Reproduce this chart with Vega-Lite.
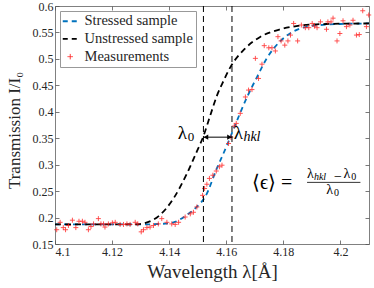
{
  "$schema": "https://vega.github.io/schema/vega-lite/v6.json",
  "width": 314,
  "height": 238,
  "autosize": {"type": "none"},
  "padding": {"left": 55, "top": 6, "right": 5, "bottom": 44},
  "background": "white",
  "config": {
    "font": "Liberation Serif",
    "view": {"stroke": "#808080", "strokeWidth": 1},
    "axis": {
      "grid": false, "domain": false, "tickSize": -4, "tickColor": "#555555", "tickWidth": 0.8,
      "labelFont": "Liberation Serif", "labelFontSize": 12, "labelColor": "#262626", "labelPadding": 6,
      "titleFont": "Liberation Serif", "titleFontWeight": "normal", "titleColor": "#262626"
    },
    "text": {"font": "Liberation Serif", "color": "#000000"}
  },
  "datasets": {
    "stressed": [
      {"x": 4.100, "y": 0.187}, {"x": 4.130, "y": 0.187}, {"x": 4.137, "y": 0.188}, {"x": 4.1415, "y": 0.191},
      {"x": 4.1462, "y": 0.205}, {"x": 4.150, "y": 0.222}, {"x": 4.1526, "y": 0.239}, {"x": 4.1567, "y": 0.293},
      {"x": 4.1602, "y": 0.336}, {"x": 4.1632, "y": 0.376}, {"x": 4.1673, "y": 0.428}, {"x": 4.1708, "y": 0.466},
      {"x": 4.1743, "y": 0.502}, {"x": 4.179, "y": 0.534}, {"x": 4.1836, "y": 0.552}, {"x": 4.1895, "y": 0.562},
      {"x": 4.2, "y": 0.566}, {"x": 4.21, "y": 0.567}
    ],
    "unstressed": [
      {"x": 4.100, "y": 0.187}, {"x": 4.128, "y": 0.187}, {"x": 4.131, "y": 0.189}, {"x": 4.1368, "y": 0.205},
      {"x": 4.1415, "y": 0.236}, {"x": 4.1462, "y": 0.283}, {"x": 4.1497, "y": 0.325}, {"x": 4.152, "y": 0.354},
      {"x": 4.1545, "y": 0.395}, {"x": 4.1567, "y": 0.430}, {"x": 4.159, "y": 0.458}, {"x": 4.1614, "y": 0.484},
      {"x": 4.1661, "y": 0.517}, {"x": 4.172, "y": 0.542}, {"x": 4.179, "y": 0.556}, {"x": 4.186, "y": 0.563},
      {"x": 4.195, "y": 0.566}, {"x": 4.21, "y": 0.567}
    ],
    "measurements": [
      {"x": 4.1006, "y": 0.177}, {"x": 4.1018, "y": 0.191}, {"x": 4.1029, "y": 0.181}, {"x": 4.1037, "y": 0.177},
      {"x": 4.1047, "y": 0.185}, {"x": 4.1061, "y": 0.195}, {"x": 4.1073, "y": 0.181}, {"x": 4.1084, "y": 0.193},
      {"x": 4.1096, "y": 0.193}, {"x": 4.1105, "y": 0.191}, {"x": 4.1117, "y": 0.177}, {"x": 4.1126, "y": 0.183},
      {"x": 4.1135, "y": 0.188}, {"x": 4.1152, "y": 0.198}, {"x": 4.1161, "y": 0.188}, {"x": 4.117, "y": 0.188},
      {"x": 4.1175, "y": 0.182}, {"x": 4.1187, "y": 0.188}, {"x": 4.1201, "y": 0.190}, {"x": 4.1211, "y": 0.191},
      {"x": 4.1228, "y": 0.187}, {"x": 4.124, "y": 0.187}, {"x": 4.1252, "y": 0.188}, {"x": 4.1263, "y": 0.187},
      {"x": 4.1281, "y": 0.191}, {"x": 4.129, "y": 0.188}, {"x": 4.1302, "y": 0.173}, {"x": 4.131, "y": 0.177},
      {"x": 4.1322, "y": 0.181}, {"x": 4.1333, "y": 0.182}, {"x": 4.1345, "y": 0.185}, {"x": 4.1362, "y": 0.188},
      {"x": 4.1374, "y": 0.198}, {"x": 4.1392, "y": 0.191}, {"x": 4.1409, "y": 0.188}, {"x": 4.1421, "y": 0.187},
      {"x": 4.1433, "y": 0.191}, {"x": 4.1456, "y": 0.201}, {"x": 4.1474, "y": 0.207}, {"x": 4.1485, "y": 0.210},
      {"x": 4.1497, "y": 0.220}, {"x": 4.1517, "y": 0.242}, {"x": 4.1524, "y": 0.255}, {"x": 4.1532, "y": 0.263},
      {"x": 4.1541, "y": 0.274}, {"x": 4.1553, "y": 0.280}, {"x": 4.1565, "y": 0.288}, {"x": 4.1576, "y": 0.296},
      {"x": 4.1585, "y": 0.299}, {"x": 4.1608, "y": 0.340}, {"x": 4.1616, "y": 0.352}, {"x": 4.1628, "y": 0.373},
      {"x": 4.1635, "y": 0.378}, {"x": 4.1649, "y": 0.397}, {"x": 4.1667, "y": 0.428}, {"x": 4.1678, "y": 0.441},
      {"x": 4.169, "y": 0.442}, {"x": 4.1702, "y": 0.501}, {"x": 4.1713, "y": 0.463}, {"x": 4.1725, "y": 0.490},
      {"x": 4.1733, "y": 0.525}, {"x": 4.1749, "y": 0.521}, {"x": 4.176, "y": 0.521}, {"x": 4.1772, "y": 0.515},
      {"x": 4.1781, "y": 0.542}, {"x": 4.1792, "y": 0.534}, {"x": 4.1805, "y": 0.526}, {"x": 4.1816, "y": 0.534},
      {"x": 4.1825, "y": 0.545}, {"x": 4.1836, "y": 0.567}, {"x": 4.185, "y": 0.534}, {"x": 4.1863, "y": 0.564},
      {"x": 4.1877, "y": 0.559}, {"x": 4.1889, "y": 0.559}, {"x": 4.1901, "y": 0.567}, {"x": 4.1909, "y": 0.562},
      {"x": 4.1918, "y": 0.559}, {"x": 4.193, "y": 0.570}, {"x": 4.1951, "y": 0.556}, {"x": 4.1956, "y": 0.570},
      {"x": 4.1967, "y": 0.570}, {"x": 4.1974, "y": 0.577}, {"x": 4.1988, "y": 0.534}, {"x": 4.1998, "y": 0.548},
      {"x": 4.2009, "y": 0.572}, {"x": 4.2021, "y": 0.561}, {"x": 4.2033, "y": 0.564}, {"x": 4.2044, "y": 0.573},
      {"x": 4.2056, "y": 0.545}, {"x": 4.2066, "y": 0.546}, {"x": 4.2078, "y": 0.591}, {"x": 4.2091, "y": 0.561},
      {"x": 4.2099, "y": 0.583}
    ]
  },
  "layer": [
    {
      "data": {"name": "stressed"},
      "mark": {"type": "line", "strokeDash": [5, 4], "strokeWidth": 1.8, "interpolate": "monotone"},
      "encoding": {
        "x": {"field": "x", "type": "quantitative", "scale": {"domain": [4.1, 4.21], "nice": false, "zero": false},
          "axis": {"orient": "bottom", "values": [4.1, 4.12, 4.14, 4.16, 4.18, 4.2], "format": ".2~f",
            "title": "Wavelength λ[Å]", "titleFontSize": 19, "titleY": 33, "titleBaseline": "alphabetic"}},
        "y": {"field": "y", "type": "quantitative", "scale": {"domain": [0.15, 0.6], "nice": false, "zero": false},
          "axis": {"orient": "left", "values": [0.15, 0.2, 0.25, 0.3, 0.35, 0.4, 0.45, 0.5, 0.55, 0.6], "format": ".2~f",
            "title": "Transmission I/I₀", "titleFontSize": 17, "titleX": -41, "titleY": 124, "titleBaseline": "middle", "titleAngle": -90}},
        "color": {"datum": "Stressed sample", "type": "nominal",
          "scale": {"domain": ["Stressed sample", "Unstressed sample", "Measurements"], "range": ["#0072BD", "#000000", "#FF2020"]},
          "legend": {"orient": "top-left", "offset": 5, "title": null, "padding": 3, "strokeColor": "#999999", "fillColor": "white",
            "labelFontSize": 14.5, "labelFont": "Liberation Serif", "labelColor": "#262626", "labelOffset": 7, "rowPadding": 2.7,
            "symbolType": "stroke", "symbolSize": 225, "symbolStrokeWidth": 1.8,
            "encode": {"symbols": {"update": {
              "shape": {"signal": "datum.label === 'Measurements' ? 'M-1,0L1,0M0,-1L0,1' : 'M-1,0L1,0'"},
              "size": {"signal": "datum.label === 'Measurements' ? 30 : 225"},
              "strokeDash": {"signal": "datum.label === 'Measurements' ? [1,0] : [5,4]"},
              "strokeWidth": {"signal": "datum.label === 'Measurements' ? 0.9 : 1.8"},
              "fill": {"value": "transparent"}}}}}}
      }
    },
    {
      "data": {"name": "unstressed"},
      "mark": {"type": "line", "strokeDash": [6, 4], "strokeWidth": 1.8, "interpolate": "monotone"},
      "encoding": {
        "x": {"field": "x", "type": "quantitative", "scale": {"domain": [4.1, 4.21], "nice": false, "zero": false},
          "axis": {"orient": "top", "values": [4.1, 4.12, 4.14, 4.16, 4.18, 4.2], "labels": false, "title": null}},
        "y": {"field": "y", "type": "quantitative", "scale": {"domain": [0.15, 0.6], "nice": false, "zero": false},
          "axis": {"orient": "right", "values": [0.15, 0.2, 0.25, 0.3, 0.35, 0.4, 0.45, 0.5, 0.55, 0.6], "labels": false, "title": null}},
        "color": {"datum": "Unstressed sample", "type": "nominal"}
      }
    },
    {
      "data": {"name": "measurements"},
      "mark": {"type": "point", "shape": "M-1,0L1,0M0,-1L0,1", "size": 25, "strokeWidth": 0.9, "filled": false, "opacity": 0.85},
      "encoding": {
        "x": {"field": "x", "type": "quantitative", "axis": null},
        "y": {"field": "y", "type": "quantitative", "axis": null},
        "color": {"datum": "Measurements", "type": "nominal"}
      }
    },
    {
      "data": {"values": [{"lambda": 4.152}, {"lambda": 4.162}]},
      "mark": {"type": "rule", "strokeDash": [6, 4], "strokeWidth": 1, "color": "#000000"},
      "encoding": {"x": {"field": "lambda", "type": "quantitative", "axis": null}}
    },
    {
      "data": {"values": [{"from": 4.152, "to": 4.162, "level": 0.352}]},
      "mark": {"type": "rule", "strokeWidth": 1, "color": "#000000"},
      "encoding": {
        "x": {"field": "from", "type": "quantitative", "axis": null},
        "x2": {"field": "to"},
        "y": {"field": "level", "type": "quantitative", "axis": null}
      }
    },
    {
      "data": {"values": [{"x": 4.152, "y": 0.352}]},
      "mark": {"type": "point", "shape": "triangle-left", "size": 28, "filled": true, "color": "#000000", "opacity": 1, "xOffset": 2.5},
      "encoding": {"x": {"field": "x", "type": "quantitative", "axis": null}, "y": {"field": "y", "type": "quantitative", "axis": null}}
    },
    {
      "data": {"values": [{"x": 4.162, "y": 0.352}]},
      "mark": {"type": "point", "shape": "triangle-right", "size": 28, "filled": true, "color": "#000000", "opacity": 1, "xOffset": -2.5},
      "encoding": {"x": {"field": "x", "type": "quantitative", "axis": null}, "y": {"field": "y", "type": "quantitative", "axis": null}}
    },
    {
      "data": {"values": [{"x": 4.1430, "y": 0.3494, "t": "λ"}, {"x": 4.1626, "y": 0.3494, "t": "λ"}]},
      "mark": {"type": "text", "align": "left", "baseline": "alphabetic", "fontSize": 19},
      "encoding": {"x": {"field": "x", "type": "quantitative", "axis": null}, "y": {"field": "y", "type": "quantitative", "axis": null}, "text": {"field": "t"}}
    },
    {
      "data": {"values": [{"x": 4.1465, "y": 0.344, "t": "0"}]},
      "mark": {"type": "text", "align": "left", "baseline": "alphabetic", "fontSize": 13},
      "encoding": {"x": {"field": "x", "type": "quantitative", "axis": null}, "y": {"field": "y", "type": "quantitative", "axis": null}, "text": {"field": "t"}}
    },
    {
      "data": {"values": [{"x": 4.1660, "y": 0.344, "t": "hkl"}]},
      "mark": {"type": "text", "align": "left", "baseline": "alphabetic", "fontSize": 14, "fontStyle": "italic"},
      "encoding": {"x": {"field": "x", "type": "quantitative", "axis": null}, "y": {"field": "y", "type": "quantitative", "axis": null}, "text": {"field": "t"}}
    },
    {
      "data": {"values": [{"x": 4.169, "y": 0.266, "t": "⟨ϵ⟩ ="}]},
      "mark": {"type": "text", "align": "left", "baseline": "middle", "fontSize": 20},
      "encoding": {"x": {"field": "x", "type": "quantitative", "axis": null}, "y": {"field": "y", "type": "quantitative", "axis": null}, "text": {"field": "t"}}
    },
    {
      "data": {"values": [{"x": 4.1883, "y": 0.2745, "t": "λ"}, {"x": 4.2011, "y": 0.2745, "t": "λ"}, {"x": 4.1950, "y": 0.2445, "t": "λ"}]},
      "mark": {"type": "text", "align": "left", "baseline": "alphabetic", "fontSize": 14},
      "encoding": {"x": {"field": "x", "type": "quantitative", "axis": null}, "y": {"field": "y", "type": "quantitative", "axis": null}, "text": {"field": "t"}}
    },
    {
      "data": {"values": [{"x": 4.1991, "y": 0.2775, "t": "−"}]},
      "mark": {"type": "text", "align": "center", "baseline": "middle", "fontSize": 14},
      "encoding": {"x": {"field": "x", "type": "quantitative", "axis": null}, "y": {"field": "y", "type": "quantitative", "axis": null}, "text": {"field": "t"}}
    },
    {
      "data": {"values": [{"x": 4.1907, "y": 0.2705, "t": "hkl"}]},
      "mark": {"type": "text", "align": "left", "baseline": "alphabetic", "fontSize": 10, "fontStyle": "italic"},
      "encoding": {"x": {"field": "x", "type": "quantitative", "axis": null}, "y": {"field": "y", "type": "quantitative", "axis": null}, "text": {"field": "t"}}
    },
    {
      "data": {"values": [{"x": 4.2038, "y": 0.2705, "t": "0"}, {"x": 4.1977, "y": 0.2405, "t": "0"}]},
      "mark": {"type": "text", "align": "left", "baseline": "alphabetic", "fontSize": 10},
      "encoding": {"x": {"field": "x", "type": "quantitative", "axis": null}, "y": {"field": "y", "type": "quantitative", "axis": null}, "text": {"field": "t"}}
    },
    {
      "data": {"values": [{"from": 4.1883, "to": 4.207, "level": 0.2665}]},
      "mark": {"type": "rule", "strokeWidth": 0.8, "color": "#000000"},
      "encoding": {
        "x": {"field": "from", "type": "quantitative", "axis": null},
        "x2": {"field": "to"},
        "y": {"field": "level", "type": "quantitative", "axis": null}
      }
    }
  ],
  "resolve": {"axis": {"x": "independent", "y": "independent"}}
}
